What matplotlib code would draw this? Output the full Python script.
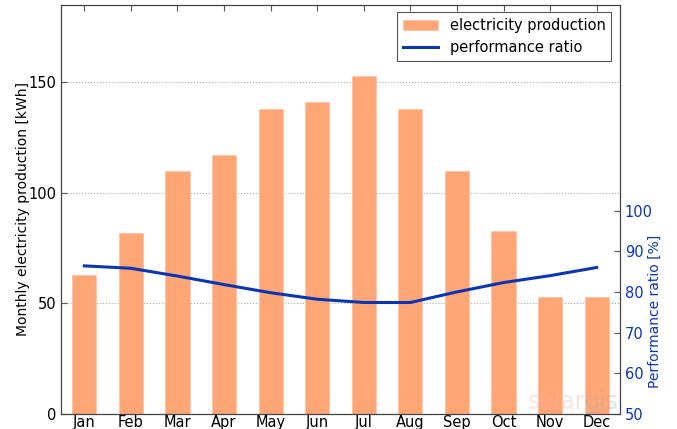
import matplotlib.pyplot as plt
import numpy as np

months = ['Jan', 'Feb', 'Mar', 'Apr', 'May', 'Jun', 'Jul', 'Aug', 'Sep', 'Oct', 'Nov', 'Dec']
production = [63, 82, 110, 117, 138, 141, 153, 138, 110, 83, 53, 53]
perf_ratio = [86.4, 85.8, 83.9, 81.8, 79.8, 78.2, 77.4, 77.4, 80.0, 82.3, 84.0, 86.0]

bar_color = '#ffa677'
line_color = '#0a35b5'

x = np.arange(len(months))

fig = plt.figure(figsize=(6.77, 4.29), dpi=100)
ax = fig.add_axes([61 / 677, 15 / 429, 559 / 677, 409 / 429])
ax2 = ax.twinx()

bars = ax.bar(x, production, width=0.52, color=bar_color, edgecolor='#ffc3a3', linewidth=0.6,
              label='electricity production', zorder=2)
line, = ax2.plot(x, perf_ratio, color=line_color, linewidth=2.2, label='performance ratio')

ax.set_xlim(-0.5, 11.5)
ax.set_ylim(0, 185)
ax.set_yticks([0, 50, 100, 150])
ax.set_xticks(x)
ax.set_xticklabels(months)
ax.yaxis.grid(True, linestyle=':', color='#aaaaaa', linewidth=0.8)
ax.set_axisbelow(True)
ax.set_ylabel('Monthly electricity production [kWh]', fontsize=10)
ax.yaxis.set_label_coords(-0.055, 0.5)
ax.tick_params(axis='both', direction='in', labelsize=10.5, top=True, length=4, color='#555555')
ax.tick_params(axis='x', pad=1)

ax2.set_ylim(50, 150.5)
ax2.set_yticks([50, 60, 70, 80, 90, 100])
ax2.tick_params(axis='y', direction='in', labelsize=10.5, colors=line_color, length=4)
ax2.tick_params(axis='y', color='#555555')
ax2.set_ylabel('Performance ratio [%]', fontsize=10, color=line_color)
ax2.yaxis.set_label_coords(1.05, 0.25)

for sp in ax2.spines.values():
    sp.set_color('#444444')

# faint watermark, bottom right
ax2.text(0.938, 0.0, 'solar', transform=ax2.transAxes, ha='right', va='bottom',
         fontsize=17, color='#f3b3a8', alpha=0.35, zorder=5)
ax2.text(0.998, 0.0, 'gis', transform=ax2.transAxes, ha='right', va='bottom',
         fontsize=17, color='#aaaaaa', alpha=0.35, zorder=5)

leg = ax2.legend([bars, line], ['electricity production', 'performance ratio'],
                 loc='upper right', fontsize=10.5, fancybox=False, framealpha=1,
                 edgecolor='#555555', bbox_to_anchor=(0.99, 0.99), borderaxespad=0.2,
                 handlelength=2.4)
leg.get_frame().set_linewidth(0.8)

fig.savefig('out.png', dpi=100)
